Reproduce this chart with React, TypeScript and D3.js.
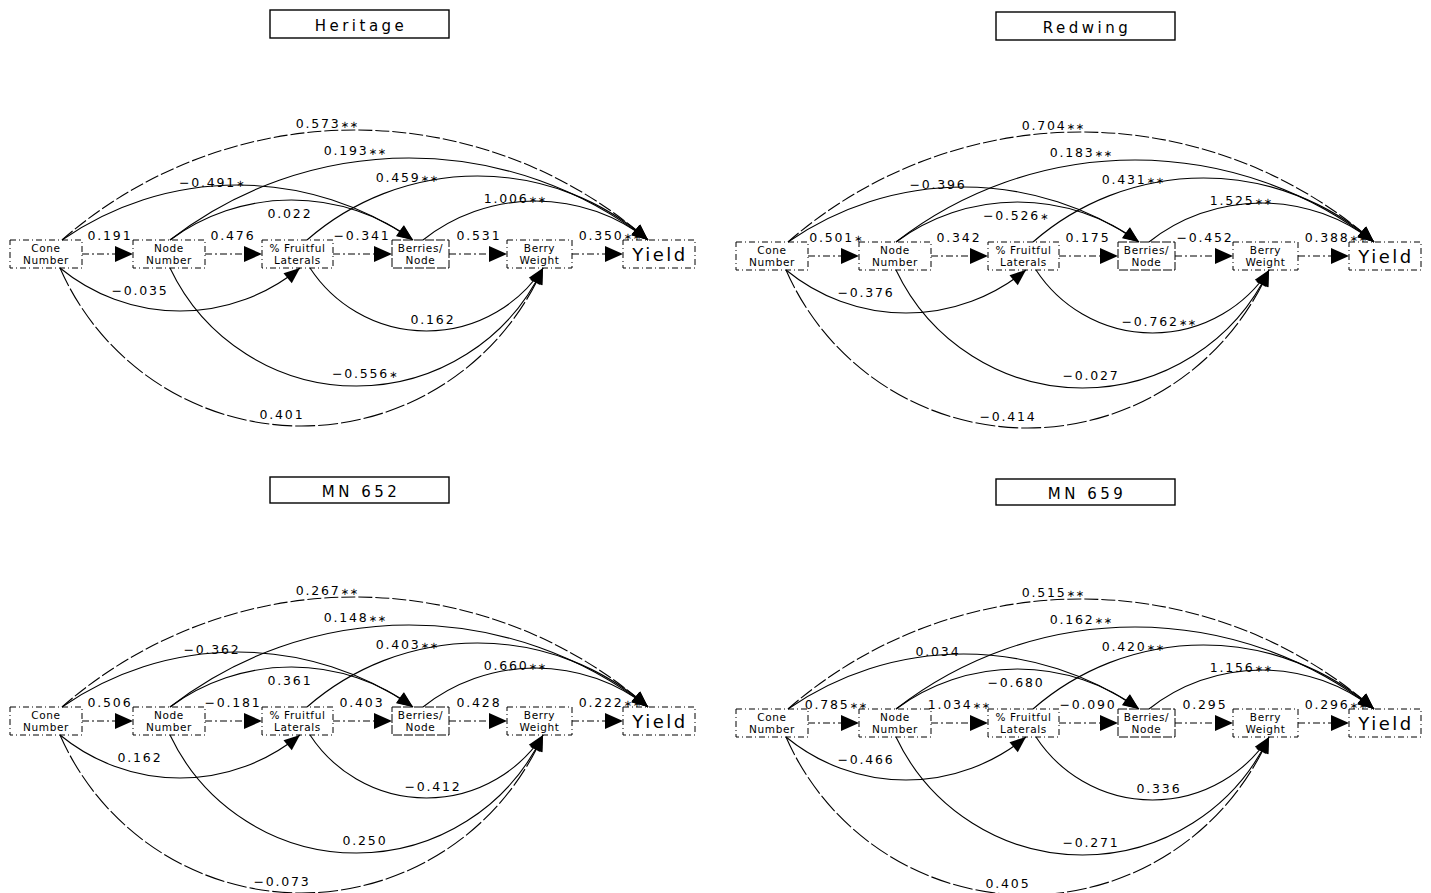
import React from 'react';
import * as d3 from 'd3';

// panel titles
const panelTitles = ['Heritage', 'Redwing', 'MN 652', 'MN 659'];

// direct paths, in order: Cone->Node, Node->%Fruitful, %Fruitful->Berries/Node, Berries/Node->Berry Wt, Berry Wt->Yield
const heritageDirect = [0.191, 0.476, -0.341, 0.531, 0.350];
const heritageDirectSig = ['', '', '', '', '**'];
const redwingDirect = [0.501, 0.342, 0.175, -0.452, 0.388];
const redwingDirectSig = ['*', '', '', '', '**'];
const mn652Direct = [0.506, -0.181, 0.403, 0.428, 0.222];
const mn652DirectSig = ['', '', '', '', '**'];
const mn659Direct = [0.785, 1.034, -0.090, 0.295, 0.296];
const mn659DirectSig = ['**', '**', '', '', '**'];

// curved paths, in order:
// above: Cone->Yield, Node->Yield, Cone->Berries/Node, Node->Berries/Node, %Fruitful->Yield, Berries/Node->Yield
// below: Cone->%Fruitful, %Fruitful->Berry Wt, Node->Berry Wt, Cone->Berry Wt
const heritageCurved = [0.573, 0.193, -0.491, 0.022, 0.459, 1.006, -0.035, 0.162, -0.556, 0.401];
const heritageCurvedSig = ['**', '**', '*', '', '**', '**', '', '', '*', ''];
const redwingCurved = [0.704, 0.183, -0.396, -0.526, 0.431, 1.525, -0.376, -0.762, -0.027, -0.414];
const redwingCurvedSig = ['**', '**', '', '*', '**', '**', '', '**', '', ''];
const mn652Curved = [0.267, 0.148, -0.362, 0.361, 0.403, 0.660, 0.162, -0.412, 0.250, -0.073];
const mn652CurvedSig = ['**', '**', '', '', '**', '**', '', '', '', ''];
const mn659Curved = [0.515, 0.162, 0.034, -0.680, 0.420, 1.156, -0.466, 0.336, -0.271, 0.405];
const mn659CurvedSig = ['**', '**', '', '', '**', '**', '', '', '', ''];

const panelData = [
  { direct: heritageDirect, directSig: heritageDirectSig, curved: heritageCurved, curvedSig: heritageCurvedSig },
  { direct: redwingDirect, directSig: redwingDirectSig, curved: redwingCurved, curvedSig: redwingCurvedSig },
  { direct: mn652Direct, directSig: mn652DirectSig, curved: mn652Curved, curvedSig: mn652CurvedSig },
  { direct: mn659Direct, directSig: mn659DirectSig, curved: mn659Curved, curvedSig: mn659CurvedSig },
];

// ---- layout (local coords of one panel) ----
const panelOffsets = [[0, 0], [726, 2], [0, 467], [726, 469]];

const boxTop = 240;
const boxBottom = 268;
const nodes = [
  { id: 'CN', x0: 10, x1: 82, lines: ['Cone', 'Number'] },
  { id: 'NN', x0: 133, x1: 205, lines: ['Node', 'Number'] },
  { id: 'FL', x0: 262, x1: 333, lines: ['% Fruitful', 'Laterals'] },
  { id: 'BN', x0: 392, x1: 449, lines: ['Berries/', 'Node'] },
  { id: 'BW', x0: 507, x1: 572, lines: ['Berry', 'Weight'] },
  { id: 'Y', x0: 623, x1: 695, lines: ['Yield'] },
];
// anchor x positions where curves leave / arrive
const outTop: Record<string, number> = { CN: 62, NN: 170, FL: 307, BN: 423 };
const inTop: Record<string, number> = { BN: 413, Y: 648 };
const outBottom: Record<string, number> = { CN: 60, NN: 170, FL: 310 };
const inBottom: Record<string, number> = { FL: 300, BW: 543 };

const curvedLayout = [
  { from: 'CN', to: 'Y', up: true, sag: 110, label: [327, 128], dash: '14,3' },
  { from: 'NN', to: 'Y', up: true, sag: 82, label: [355, 155], dash: null },
  { from: 'CN', to: 'BN', up: true, sag: 55, label: [212, 187], dash: null },
  { from: 'NN', to: 'BN', up: true, sag: 40, label: [290, 218], dash: null },
  { from: 'FL', to: 'Y', up: true, sag: 64, label: [407, 182], dash: null },
  { from: 'BN', to: 'Y', up: true, sag: 39, label: [515, 203], dash: null },
  { from: 'CN', to: 'FL', up: false, sag: 43, label: [140, 295], dash: null },
  { from: 'FL', to: 'BW', up: false, sag: 63, label: [433, 324], dash: null },
  { from: 'NN', to: 'BW', up: false, sag: 118, label: [365, 378], dash: null },
  { from: 'CN', to: 'BW', up: false, sag: 158, label: [282, 419], dash: '20,3' },
];
const directLabelX = [110, 233, 362, 479, 610];

const fmt = d3.format('.3f');
const sigText = (s: string) => s.replace(/\*/g, '\u2217');
const FONT = '"DejaVu Sans", sans-serif';

function arrowHead(tx: number, ty: number, dx: number, dy: number, len = 17, w = 14) {
  const bx = tx - dx * len;
  const by = ty - dy * len;
  const px = -dy * w / 2;
  const py = dx * w / 2;
  return `M${tx},${ty}L${bx + px},${by + py}L${bx - px},${by - py}Z`;
}

function curve(x0: number, x1: number, y: number, s: number, up: boolean) {
  const c = Math.abs(x1 - x0);
  const R = (c * c / 4 + s * s) / (2 * s);
  const xm = (x0 + x1) / 2;
  const p = d3.path();
  p.moveTo(x0, y);
  let dir: [number, number];
  if (up) {
    const cy = y - s + R;
    const a0 = Math.atan2(y - cy, x0 - xm);
    const a1 = Math.atan2(y - cy, x1 - xm);
    p.arc(xm, cy, R, a0, a1, false);
    dir = [-Math.sin(a1), Math.cos(a1)];
  } else {
    const cy = y + s - R;
    const a0 = Math.atan2(y - cy, x0 - xm);
    const a1 = Math.atan2(y - cy, x1 - xm);
    p.arc(xm, cy, R, a0, a1, true);
    dir = [Math.sin(a1), -Math.cos(a1)];
  }
  return { d: p.toString(), head: arrowHead(x1, y, dir[0], dir[1], 16, 13) };
}

const Label: React.FC<{ x: number; y: number; v: number; sig: string }> = ({ x, y, v, sig }) => (
  <text x={x} y={y} textAnchor="middle" fontSize={12.5} letterSpacing={1.8} fontFamily={FONT} fill="#000">
    {fmt(v)}
    {sig && <tspan fontSize={10} letterSpacing={0.5}>{sigText(sig)}</tspan>}
  </text>
);

const Panel: React.FC<{ idx: number }> = ({ idx }) => {
  const [ox, oy] = panelOffsets[idx];
  const data = panelData[idx];
  const midY = (boxTop + boxBottom) / 2;

  return (
    <g transform={`translate(${ox},${oy})`}>
      {/* title */}
      <rect x={270} y={10} width={179} height={idx >= 2 ? 26 : 28} fill="none" stroke="#000" strokeWidth={1.4} />
      <text x={361} y={idx >= 2 ? 30 : 31} textAnchor="middle" fontSize={15} letterSpacing={3.5}
        fontFamily={FONT} fill="#000">{panelTitles[idx]}</text>

      {/* curved paths */}
      {curvedLayout.map((c, i) => {
        const x0 = c.up ? outTop[c.from] : outBottom[c.from];
        const x1 = c.up ? inTop[c.to] : inBottom[c.to];
        const y = c.up ? boxTop : boxBottom;
        const g = curve(x0, x1, y, c.sag, c.up);
        return (
          <g key={`c${i}`}>
            <path d={g.d} fill="none" stroke="#000" strokeWidth={1.1}
              strokeDasharray={c.dash || undefined} />
            <path d={g.head} fill="#000" />
          </g>
        );
      })}

      {/* boxes */}
      {nodes.map((n) => (
        <g key={n.id}>
          <rect x={n.x0} y={boxTop} width={n.x1 - n.x0} height={boxBottom - boxTop}
            fill="none" stroke="#000" strokeWidth={1} strokeDasharray={n.id === 'BN' ? '9,2' : '6,3,1,3'} />
          {n.lines.length === 1 ? (
            <text x={(n.x0 + n.x1) / 2 + 1} y={midY + 7} textAnchor="middle" fontSize={18}
              letterSpacing={2.5} fontFamily={FONT} fill="#000">{n.lines[0]}</text>
          ) : (
            n.lines.map((t, j) => (
              <text key={j} x={(n.x0 + n.x1) / 2} y={midY - 2 + j * 12} textAnchor="middle"
                fontSize={10.5} letterSpacing={0.6} fontFamily={FONT} fill="#000">{t}</text>
            ))
          )}
        </g>
      ))}

      {/* direct arrows */}
      {data.direct.map((v, i) => {
        const a = nodes[i];
        const b = nodes[i + 1];
        return (
          <g key={`d${i}`}>
            <line x1={a.x1} x2={b.x0 - 10} y1={midY} y2={midY} stroke="#000" strokeWidth={1.1}
              strokeDasharray="7,3,2,3" />
            <path d={arrowHead(b.x0, midY, 1, 0, 18, 16)} fill="#000" />
          </g>
        );
      })}

      {/* labels */}
      {data.direct.map((v, i) => (
        <Label key={`dl${i}`} x={directLabelX[i]} y={boxTop} v={v} sig={data.directSig[i]} />
      ))}
      {data.curved.map((v, i) => (
        <Label key={`cl${i}`} x={curvedLayout[i].label[0]} y={curvedLayout[i].label[1]} v={v}
          sig={data.curvedSig[i]} />
      ))}
    </g>
  );
};

export default function App() {
  return (
    <div style={{ position: 'absolute', left: 0, top: 0 }}>
      <svg width={1431} height={893} style={{ display: 'block', background: '#fff' }}>
        {panelTitles.map((_, i) => (
          <Panel key={i} idx={i} />
        ))}
      </svg>
    </div>
  );
}
